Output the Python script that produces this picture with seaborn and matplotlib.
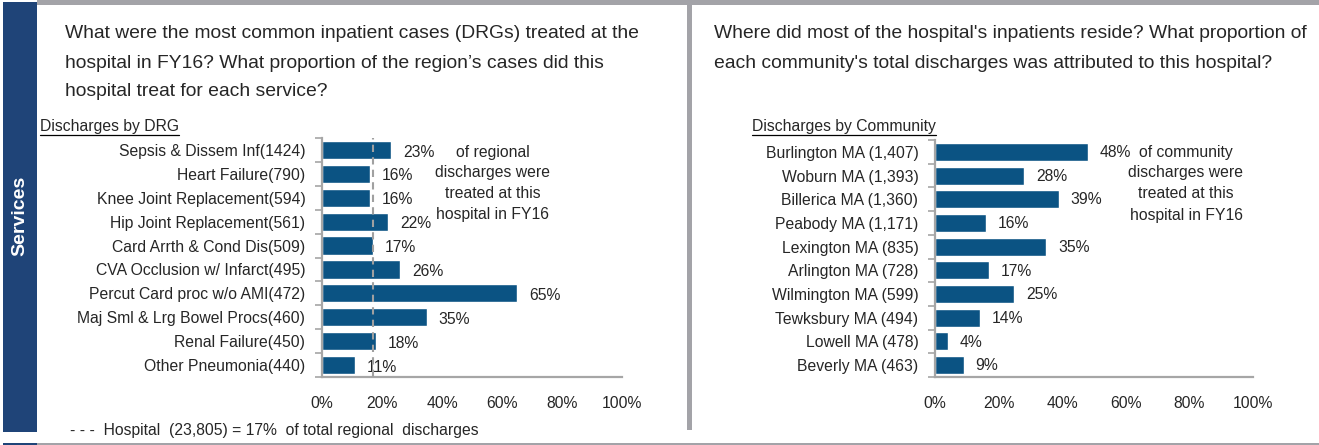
import matplotlib
matplotlib.use("Agg")
import matplotlib.pyplot as plt
from matplotlib.patches import Rectangle
from matplotlib.lines import Line2D
import seaborn as sns

# data
drg_labels = ["Sepsis & Dissem Inf(1424)", "Heart Failure(790)", "Knee Joint Replacement(594)",
              "Hip Joint Replacement(561)", "Card Arrth & Cond Dis(509)", "CVA Occlusion w/ Infarct(495)",
              "Percut Card proc w/o AMI(472)", "Maj Sml & Lrg Bowel Procs(460)", "Renal Failure(450)",
              "Other Pneumonia(440)"]
drg_share = [23, 16, 16, 22, 17, 26, 65, 35, 18, 11]
hospital_share = 17

community_labels = ["Burlington MA (1,407)", "Woburn MA (1,393)", "Billerica MA (1,360)",
                    "Peabody MA (1,171)", "Lexington MA (835)", "Arlington MA (728)",
                    "Wilmington MA (599)", "Tewksbury MA (494)", "Lowell MA (478)",
                    "Beverly MA (463)"]
community_share = [48, 28, 39, 16, 35, 17, 25, 14, 4, 9]

x_ticks = [0, 20, 40, 60, 80, 100]

left_title = ["What were the most common inpatient cases (DRGs) treated at the",
              "hospital in FY16? What proportion of the region\u2019s cases did this",
              "hospital treat for each service?"]
right_title = ["Where did most of the hospital's inpatients reside? What proportion of",
               "each community's total discharges was attributed to this hospital?"]
left_note = ["of regional", "discharges were", "treated at this", "hospital in FY16"]
right_note = ["of community", "discharges were", "treated at this", "hospital in FY16"]
footnote = "- - -  Hospital  (23,805) = 17%  of total regional  discharges"

sns.set_style("white")
plt.rcParams["font.family"] = ["Liberation Sans", "DejaVu Sans"]

W, H = 1319, 445
fig = plt.figure(figsize=(W / 100, H / 100), dpi=100)

bar_color = "#0b5383"
navy = "#1f4478"
frame_gray = "#a3a3a8"
spine_gray = "#a6a6a6"
fs = 11.3


def fx(px):
    return px / W


def fy(py):
    return 1 - py / H


# page furniture
fig.add_artist(Rectangle((fx(3), fy(432)), fx(34), 430 / H, transform=fig.transFigure,
                         color=navy, lw=0))
fig.add_artist(Rectangle((fx(3), 0), fx(34), 2.5 / H, transform=fig.transFigure,
                         color=navy, lw=0))
fig.add_artist(Rectangle((fx(37), fy(4.5)), fx(W - 37), 4.5 / H, transform=fig.transFigure,
                         color=frame_gray, lw=0))
fig.add_artist(Rectangle((fx(687), fy(430)), fx(5), 430 / H, transform=fig.transFigure,
                         color=frame_gray, lw=0))
fig.add_artist(Rectangle((fx(37), 0), fx(W - 37), 2.5 / H, transform=fig.transFigure,
                         color=frame_gray, lw=0))
fig.text(fx(20), fy(216), "Services", rotation=90, color="white", fontsize=14,
         fontweight="bold", ha="center", va="center")


def panel(rect, labels, values, bar_offset):
    ax = fig.add_axes(rect)
    sns.barplot(x=values, y=labels, ax=ax, color=bar_color, orient="h", width=0.76,
                saturation=1)
    ax.set_xlim(0, 100)
    ax.set_ylim(9.5, -0.5)
    ax.set_xticks(x_ticks)
    ax.set_xticklabels([f"{t}%" for t in x_ticks], fontsize=fs)
    ax.set_yticks(range(len(labels)))
    ax.set_yticklabels(labels, fontsize=fs)
    ax.set_yticks([i - 0.5 for i in range(len(labels) + 1)], minor=True)
    ax.tick_params(axis="y", which="major", length=0, pad=12)
    ax.tick_params(axis="y", which="minor", length=5, width=1.2, color=spine_gray, left=True)
    ax.tick_params(axis="x", length=0, pad=14)
    ax.set_xlabel("")
    ax.set_ylabel("")
    for s in ["top", "right"]:
        ax.spines[s].set_visible(False)
    for s in ["left", "bottom"]:
        ax.spines[s].set_color(spine_gray)
        ax.spines[s].set_linewidth(1.6)
    for i, v in enumerate(values):
        ax.annotate(f"{v}%", (v, i), xytext=(8.5, bar_offset), textcoords="offset points",
                    ha="left", va="center", fontsize=fs)
    return ax


ax1 = panel([fx(322), fy(377), 300 / W, 239 / H], drg_labels, drg_share, -1.5)
ax1.axvline(hospital_share, color="#a0a0a0", ls=(0, (3.5, 2.5)), lw=1.5, zorder=3)
ax2 = panel([fx(935), fy(377), 318 / W, 237 / H], community_labels, community_share, -0.5)

# titles
for i, line in enumerate(left_title):
    fig.text(fx(65), fy(34 + 29 * i), line, fontsize=13.85, ha="left", va="center")
for i, line in enumerate(right_title):
    fig.text(fx(714), fy(34 + 29 * i), line, fontsize=13.85, ha="left", va="center")

# notes beside the bars
for i, line in enumerate(left_note):
    fig.text(fx(493), fy(152 + 20.7 * i), line, fontsize=fs, ha="center", va="center")
for i, line in enumerate(right_note):
    fig.text(fx(1186), fy(152 + 21 * i), line, fontsize=fs, ha="center", va="center")

fig.text(fx(70), fy(431), footnote, fontsize=fs, ha="left", va="center")

# underlined subtitles
renderer = fig.canvas.get_renderer()
for x0, label in [(40, "Discharges by DRG"), (752, "Discharges by Community")]:
    t = fig.text(fx(x0), fy(127), label, fontsize=fs, ha="left", va="center")
    bb = t.get_window_extent(renderer=renderer)
    fig.add_artist(Line2D([bb.x0 / W, bb.x1 / W], [fy(134.5), fy(134.5)],
                          transform=fig.transFigure, color="black", lw=0.9))

fig.savefig("out.png", dpi=100)
